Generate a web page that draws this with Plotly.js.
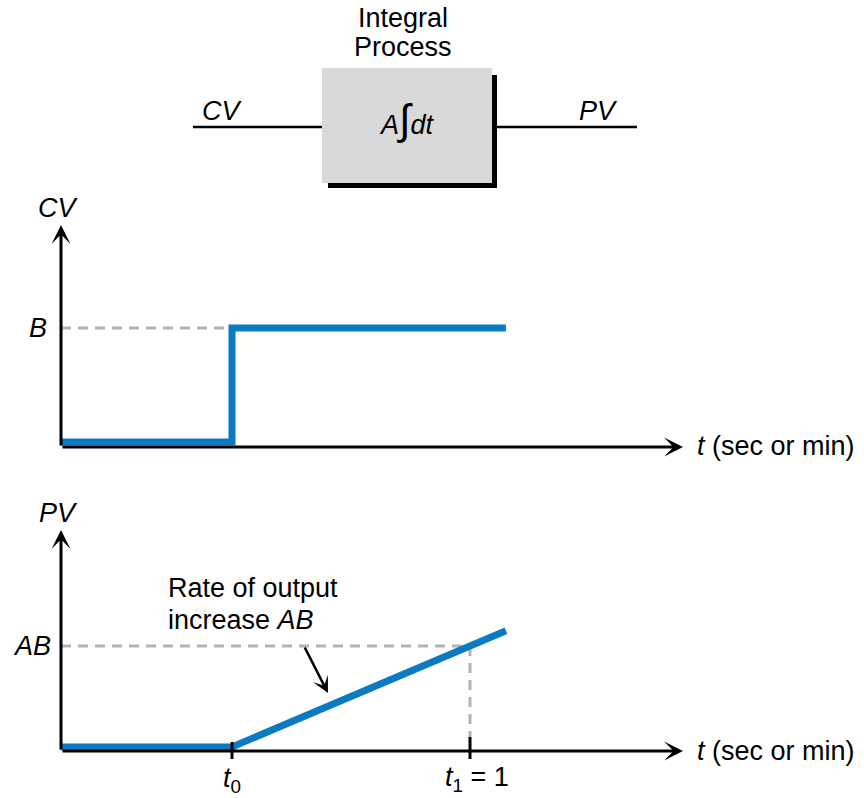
<!DOCTYPE html>
<html>
<head>
<meta charset="utf-8">
<script src="https://cdn.plot.ly/plotly-3.0.1.min.js"></script>
<style>html,body{margin:0;padding:0;background:#fff;} #chart{width:864px;height:798px;}</style>
</head>
<body>
<div id="chart"></div>
<script>
// ---- data ----
var tCV = [-0.7185, 0, 0, 1.151];      // time (t0 = 0, t1 = 1)
var cvValues = [0, 0, 1, 1];           // CV step of size B (= 1)
var tPV = [-0.7185, 0, 1.151];
var pvValues = [0, 0, 1.151];          // PV ramps with slope AB
var t0 = 0, t1 = 1, B = 1, AB = 1;
var tAxisStart = -0.7185, tAxisEnd = 1.895;
var xTickLabels = ['<i>t</i><sub>0</sub>', '<i>t</i><sub>1</sub> = 1'];
var axisTitleT = '<i>t</i> (sec or min)';

// ---- layout helpers ----
var W = 864, H = 798;
var FONT = 'Liberation Sans, Arial, sans-serif';
var BLUE = '#0a7bc1', GRAY = '#b3b3b3';
function px(x){ return x / W; }
function py(y){ return 1 - y / H; }
function lab(text, x, y, o){
  o = o || {};
  return {xref:'paper', yref:'paper', x:px(x), y:py(y), text:text, showarrow:false,
    xanchor:o.xanchor || 'center', yanchor:o.yanchor || 'middle',
    font:{family:FONT, size:o.size || 27, color:'#000'}};
}
function arrow(xr, yr, xTail, yTail, xTip, yTip, w){
  return {xref:xr, yref:yr, axref:xr, ayref:yr, x:xTip, y:yTip, ax:xTail, ay:yTail,
    text:'', showarrow:true, arrowhead:3, arrowsize:1.05, arrowwidth:w || 3, arrowcolor:'#000', standoff:0, startstandoff:0};
}
function seg(xr, yr, x0, y0, x1, y1, color, width, dash, layer){
  return {type:'line', xref:xr, yref:yr, x0:x0, y0:y0, x1:x1, y1:y1, layer:layer || 'above',
    line:{color:color, width:width, dash:dash || 'solid'}};
}

// vertical ranges (value -> pixel mapping chosen so that value 0 sits just above the axis line)
var y1Range = [-0.2456, 2.1228], y1Axis = -0.0439, y1Top = 1.9035;
var y2Range = [-0.2277, 2.4455], y2Axis = -0.0396, y2Top = 2.1485;

var traces = [
  {x:tCV, y:cvValues, xaxis:'x', yaxis:'y', mode:'lines', line:{color:BLUE, width:7, shape:'linear'}, hoverinfo:'skip'},
  {x:tPV, y:pvValues, xaxis:'x2', yaxis:'y2', mode:'lines', line:{color:BLUE, width:7}, hoverinfo:'skip'}
];

var hidden = {visible:false, showgrid:false, zeroline:false, fixedrange:true};
var DASH = '10px,7px';
var layout = {
  width:W, height:H, margin:{l:0, r:0, t:0, b:0}, showlegend:false,
  paper_bgcolor:'#fff', plot_bgcolor:'rgba(0,0,0,0)',
  xaxis: Object.assign({}, hidden, {domain:[px(40), px(720)], range:[-0.80672, 2.05042], anchor:'y'}),
  yaxis: Object.assign({}, hidden, {domain:[py(470), py(200)], range:y1Range, anchor:'x'}),
  xaxis2: Object.assign({}, hidden, {domain:[px(40), px(720)], range:[-0.80672, 2.05042], anchor:'y2'}),
  yaxis2: Object.assign({}, hidden, {domain:[py(770), py(500)], range:y2Range, anchor:'x2'}),
  shapes: [
    // block diagram
    {type:'rect', xref:'paper', yref:'paper', x0:px(328), x1:px(497), y0:py(188), y1:py(75), fillcolor:'#000', line:{width:0}},
    {type:'rect', xref:'paper', yref:'paper', x0:px(322), x1:px(492), y0:py(183), y1:py(68), fillcolor:'#d9d9d9', line:{width:0}},
    {type:'line', xref:'paper', yref:'paper', x0:px(193), x1:px(322), y0:py(127), y1:py(127), line:{color:'#000', width:2.5}},
    {type:'line', xref:'paper', yref:'paper', x0:px(497), x1:px(637), y0:py(127), y1:py(127), line:{color:'#000', width:2.5}},
    // dashed guides
    seg('x', 'y', tAxisStart, B, t0, B, GRAY, 3, DASH, 'below'),
    seg('x2', 'y2', tAxisStart, AB, t1, AB, GRAY, 3, DASH, 'below'),
    seg('x2', 'y2', t1, AB, t1, 0.099, GRAY, 3, DASH, 'below'),
    // ticks at t0, t1
    seg('x2', 'y2', t0, 0.0495, t0, -0.1188, '#000', 3),
    seg('x2', 'y2', t1, 0.099, t1, -0.1188, '#000', 3)
  ],
  annotations: [
    lab('Integral', 403, 18),
    lab('Process', 403, 47),
    lab('<i>CV</i>', 222, 111),
    lab('<i>PV</i>', 598, 111),
    lab('<i>A</i><span style="font-size:42px">∫</span><i>dt</i>', 407, 119),
    // axes
    arrow('x', 'y', tAxisStart, y1Axis, tAxisEnd, y1Axis),
    arrow('x', 'y', tAxisStart, y1Axis, tAxisStart, y1Top),
    arrow('x2', 'y2', tAxisStart, y2Axis, tAxisEnd, y2Axis),
    arrow('x2', 'y2', tAxisStart, y2Axis, tAxisStart, y2Top),
    lab('<i>CV</i>', 58, 208),
    lab('<i>B</i>', 38, 328),
    lab(axisTitleT, 695, 446, {xanchor:'left'}),
    lab('<i>PV</i>', 58, 513),
    lab('<i>AB</i>', 32, 646),
    lab(axisTitleT, 695, 751, {xanchor:'left'}),
    lab(xTickLabels[0], 232, 780),
    lab(xTickLabels[1], 443, 779, {xanchor:'left'}),
    lab('Rate of output', 166, 588, {xanchor:'left'}),
    lab('increase <i>AB</i>', 166, 620, {xanchor:'left'}),
    arrow('paper', 'paper', px(304), py(646), px(328), py(693), 2.6)
  ]
};

Plotly.newPlot('chart', traces, layout, {staticPlot:true, displayModeBar:false});
</script>
</body>
</html>
